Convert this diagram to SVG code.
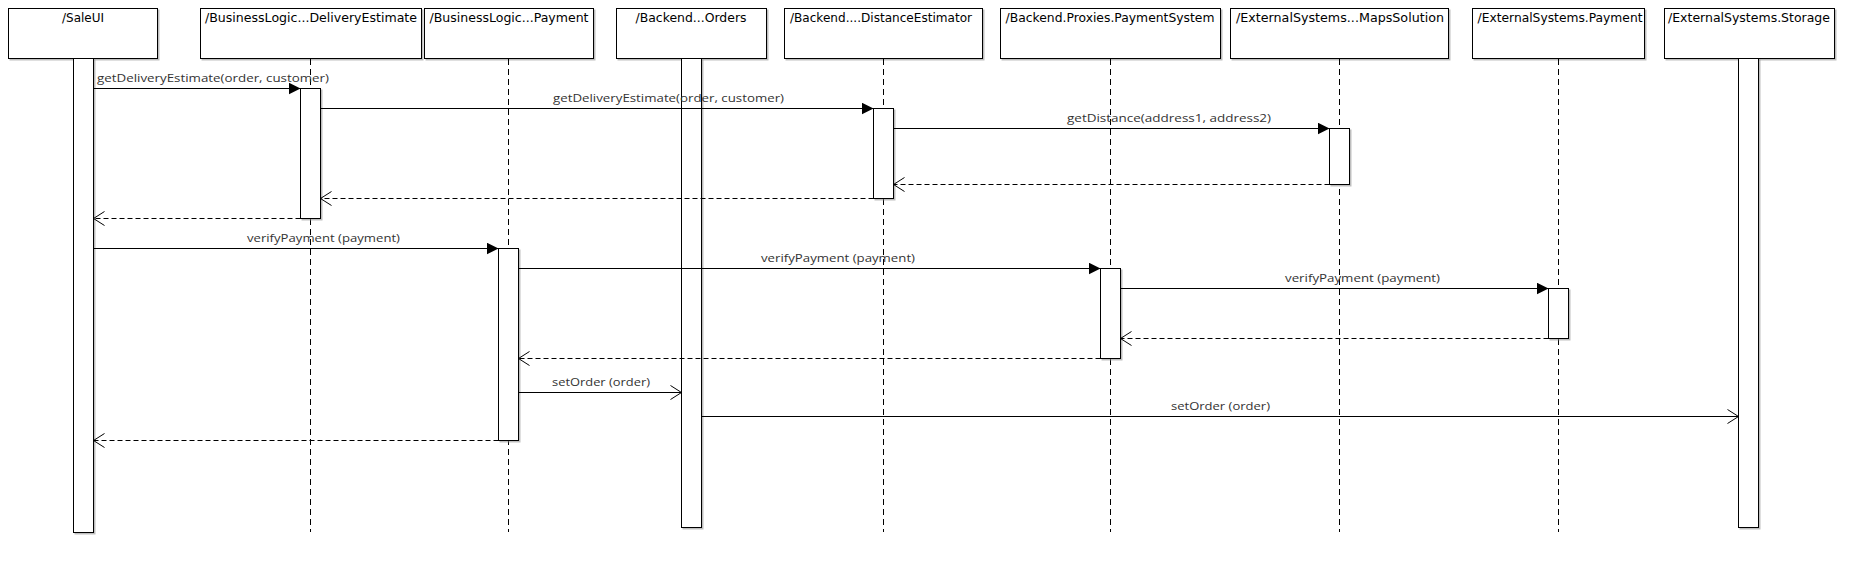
<svg xmlns="http://www.w3.org/2000/svg" width="1863" height="566" viewBox="0 0 1863 566">
<defs>
<filter id="sh" x="-10%" y="-10%" width="130%" height="130%">
<feDropShadow dx="1.5" dy="1.5" stdDeviation="0.7" flood-color="#888" flood-opacity="0.55"/>
</filter>
<marker id="fill" markerUnits="userSpaceOnUse" markerWidth="13" markerHeight="13" refX="12" refY="6" orient="auto">
<path d="M0,0 L12,6 L0,12 z" fill="#000"/>
</marker>
<marker id="open" markerUnits="userSpaceOnUse" markerWidth="14" markerHeight="16" refX="12" refY="7.5" orient="auto">
<path d="M1,0.5 L12,7.5 L1,14.5" fill="none" stroke="#000" stroke-width="1"/>
</marker>
</defs>
<style>
.box{fill:#fff;stroke:#000;stroke-width:1;filter:url(#sh)}
.act{fill:#fff;stroke:#000;stroke-width:1;filter:url(#sh)}
.life{stroke:#000;stroke-width:1;stroke-dasharray:6,4;fill:none}
.title{font-family:"DejaVu Sans","Liberation Sans",sans-serif;font-size:12px;fill:#000;text-anchor:middle}
.lbl{font-family:"Open Sans","DejaVu Sans","Liberation Sans",sans-serif;font-size:11.5px;fill:#333}
.call{stroke:#000;stroke-width:1;fill:none;marker-end:url(#fill)}
.async{stroke:#000;stroke-width:1;fill:none;marker-end:url(#open)}
.ret{stroke:#000;stroke-width:1;fill:none;stroke-dasharray:5,3;marker-end:url(#open)}
</style>
<rect width="1863" height="566" fill="#fff"/>

<g id="SaleUI">
<rect class="box" x="8.5" y="8.5" width="149" height="50"/>
<text class="title" x="83" y="22" textLength="42" lengthAdjust="spacingAndGlyphs">/SaleUI</text>
<rect class="act" x="73.5" y="58.5" width="20" height="474"/>
</g>

<g id="DeliveryEstimate">
<rect class="box" x="200.5" y="8.5" width="221" height="50"/>
<text class="title" x="311" y="22" textLength="212" lengthAdjust="spacingAndGlyphs">/BusinessLogic...DeliveryEstimate</text>
<line class="life" x1="310.5" y1="59" x2="310.5" y2="532"/>
<rect class="act" x="300.5" y="88.5" width="20" height="130"/>
</g>

<g id="BLPayment">
<rect class="box" x="424.5" y="8.5" width="169" height="50"/>
<text class="title" x="509" y="22" textLength="159" lengthAdjust="spacingAndGlyphs">/BusinessLogic...Payment</text>
<line class="life" x1="508.5" y1="59" x2="508.5" y2="532"/>
<rect class="act" x="498.5" y="248.5" width="20" height="192"/>
</g>

<g id="Orders">
<rect class="box" x="616.5" y="8.5" width="150" height="50"/>
<text class="title" x="691" y="22" textLength="111" lengthAdjust="spacingAndGlyphs">/Backend...Orders</text>
<rect class="act" x="681.5" y="58.5" width="20" height="469"/>
</g>

<g id="DistanceEstimator">
<rect class="box" x="784.5" y="8.5" width="198" height="50"/>
<text class="title" x="881" y="22" textLength="182" lengthAdjust="spacingAndGlyphs">/Backend....DistanceEstimator</text>
<line class="life" x1="883.5" y1="59" x2="883.5" y2="532"/>
<rect class="act" x="873.5" y="108.5" width="20" height="90"/>
</g>

<g id="PaymentSystem">
<rect class="box" x="1000.5" y="8.5" width="220" height="50"/>
<text class="title" x="1110" y="22" textLength="209" lengthAdjust="spacingAndGlyphs">/Backend.Proxies.PaymentSystem</text>
<line class="life" x1="1110.5" y1="59" x2="1110.5" y2="532"/>
<rect class="act" x="1100.5" y="268.5" width="20" height="90"/>
</g>

<g id="MapsSolution">
<rect class="box" x="1230.5" y="8.5" width="218" height="50"/>
<text class="title" x="1340" y="22" textLength="208" lengthAdjust="spacingAndGlyphs">/ExternalSystems...MapsSolution</text>
<line class="life" x1="1339.5" y1="59" x2="1339.5" y2="532"/>
<rect class="act" x="1329.5" y="128.5" width="20" height="56"/>
</g>

<g id="ExtPayment">
<rect class="box" x="1472.5" y="8.5" width="172" height="50"/>
<text class="title" x="1560" y="22" textLength="165" lengthAdjust="spacingAndGlyphs">/ExternalSystems.Payment</text>
<line class="life" x1="1558.5" y1="59" x2="1558.5" y2="532"/>
<rect class="act" x="1548.5" y="288.5" width="20" height="50"/>
</g>

<g id="Storage">
<rect class="box" x="1664.5" y="8.5" width="170" height="50"/>
<text class="title" x="1749" y="22" textLength="162" lengthAdjust="spacingAndGlyphs">/ExternalSystems.Storage</text>
<rect class="act" x="1738.5" y="58.5" width="20" height="469"/>
</g>

<g id="connectors">
<line class="call" x1="93.5" y1="88.5" x2="300.5" y2="88.5"/>
<text class="lbl" x="97" y="82" textLength="232" lengthAdjust="spacingAndGlyphs">getDeliveryEstimate(order, customer)</text>
<line class="call" x1="320.5" y1="108.5" x2="873.5" y2="108.5"/>
<text class="lbl" x="553" y="102" textLength="231" lengthAdjust="spacingAndGlyphs">getDeliveryEstimate(order, customer)</text>
<line class="call" x1="893.5" y1="128.5" x2="1329.5" y2="128.5"/>
<text class="lbl" x="1067" y="122" textLength="204" lengthAdjust="spacingAndGlyphs">getDistance(address1, address2)</text>
<line class="ret" x1="1329.5" y1="184.5" x2="893.5" y2="184.5"/>
<line class="ret" x1="873.5" y1="198.5" x2="320.5" y2="198.5"/>
<line class="ret" x1="300.5" y1="218.5" x2="93.5" y2="218.5"/>
<line class="call" x1="93.5" y1="248.5" x2="498.5" y2="248.5"/>
<text class="lbl" x="247" y="242" textLength="153" lengthAdjust="spacingAndGlyphs">verifyPayment (payment)</text>
<line class="call" x1="518.5" y1="268.5" x2="1100.5" y2="268.5"/>
<text class="lbl" x="761" y="262" textLength="154" lengthAdjust="spacingAndGlyphs">verifyPayment (payment)</text>
<line class="call" x1="1120.5" y1="288.5" x2="1548.5" y2="288.5"/>
<text class="lbl" x="1285" y="282" textLength="155" lengthAdjust="spacingAndGlyphs">verifyPayment (payment)</text>
<line class="ret" x1="1548.5" y1="338.5" x2="1120.5" y2="338.5"/>
<line class="ret" x1="1100.5" y1="358.5" x2="518.5" y2="358.5"/>
<line class="async" x1="518.5" y1="392.5" x2="681.5" y2="392.5"/>
<text class="lbl" x="552" y="386" textLength="98" lengthAdjust="spacingAndGlyphs">setOrder (order)</text>
<line class="async" x1="701.5" y1="416.5" x2="1738.5" y2="416.5"/>
<text class="lbl" x="1171" y="410" textLength="99" lengthAdjust="spacingAndGlyphs">setOrder (order)</text>
<line class="ret" x1="498.5" y1="440.5" x2="93.5" y2="440.5"/>
</g>
</svg>
